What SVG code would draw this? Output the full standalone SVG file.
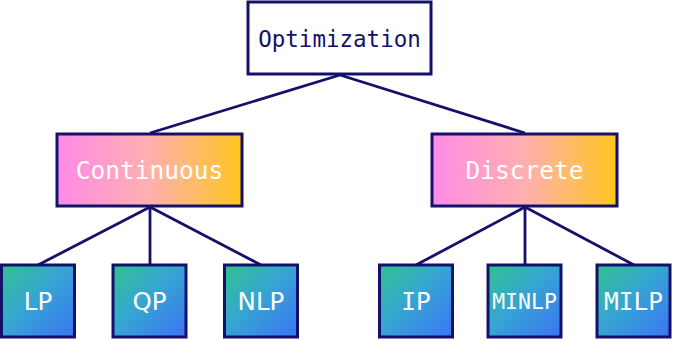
<svg xmlns="http://www.w3.org/2000/svg" width="680" height="340" viewBox="0 0 680 340">
<defs>
<linearGradient id="warm" x1="0" y1="0" x2="1" y2="0">
<stop offset="0" stop-color="#ff8ae6"/>
<stop offset="0.5" stop-color="#ffb0b0"/>
<stop offset="1" stop-color="#ffc61e"/>
</linearGradient>
<linearGradient id="cool" x1="0" y1="0" x2="1" y2="1">
<stop offset="0" stop-color="#31c28c"/>
<stop offset="0.45" stop-color="#36a6d2"/>
<stop offset="1" stop-color="#3b74f4"/>
</linearGradient>
<style>
.box{stroke:#15106a;stroke-width:3}
.root{fill:#ffffff}
.mid{fill:url(#warm)}
.leaf{fill:url(#cool)}
.edge{stroke:#15106a;stroke-width:2.8;fill:none}
.t{font-family:"DejaVu Sans Mono",monospace;text-anchor:middle;dominant-baseline:central}
.ts{font-family:"DejaVu Sans",sans-serif;text-anchor:middle;dominant-baseline:central;fill:#ffffff;font-size:24.5px}
.rt{fill:#15106a;font-size:22.5px}
.wt{fill:#ffffff;font-size:24.5px}
</style>
</defs>
<g id="connectors">
<line class="edge" x1="340" y1="75" x2="150" y2="133"/>
<line class="edge" x1="340" y1="75" x2="525" y2="133"/>
<line class="edge" x1="150" y1="207" x2="38" y2="265"/>
<line class="edge" x1="150" y1="207" x2="150" y2="265"/>
<line class="edge" x1="150" y1="207" x2="261" y2="265"/>
<line class="edge" x1="525" y1="207" x2="416" y2="265"/>
<line class="edge" x1="525" y1="207" x2="525" y2="265"/>
<line class="edge" x1="525" y1="207" x2="634" y2="265"/>
</g>
<g id="optimization">
<rect class="box root" x="248" y="2" width="183" height="72"/>
<text class="t rt" x="339.5" y="39">Optimization</text>
</g>
<g id="continuous">
<rect class="box mid" x="57" y="134" width="185" height="72"/>
<text class="t wt" x="149.5" y="170">Continuous</text>
</g>
<g id="discrete">
<rect class="box mid" x="432" y="134" width="185" height="72"/>
<text class="t wt" x="524.5" y="170">Discrete</text>
</g>
<g id="lp">
<rect class="box leaf" x="1.5" y="265" width="73" height="72"/>
<text class="ts" x="38" y="301">LP</text>
</g>
<g id="qp">
<rect class="box leaf" x="113" y="265" width="73" height="72"/>
<text class="ts" x="149.5" y="301">QP</text>
</g>
<g id="nlp">
<rect class="box leaf" x="224.5" y="265" width="73" height="72"/>
<text class="ts" x="261" y="301">NLP</text>
</g>
<g id="ip">
<rect class="box leaf" x="379.5" y="265" width="73" height="72"/>
<text class="t wt" x="416" y="301">IP</text>
</g>
<g id="minlp">
<rect class="box leaf" x="488" y="265" width="73" height="72"/>
<text class="t wt" x="524.5" y="301" style="font-size:21.5px">MINLP</text>
</g>
<g id="milp">
<rect class="box leaf" x="597" y="265" width="73" height="72"/>
<text class="t wt" x="633.5" y="301">MILP</text>
</g>
</svg>
